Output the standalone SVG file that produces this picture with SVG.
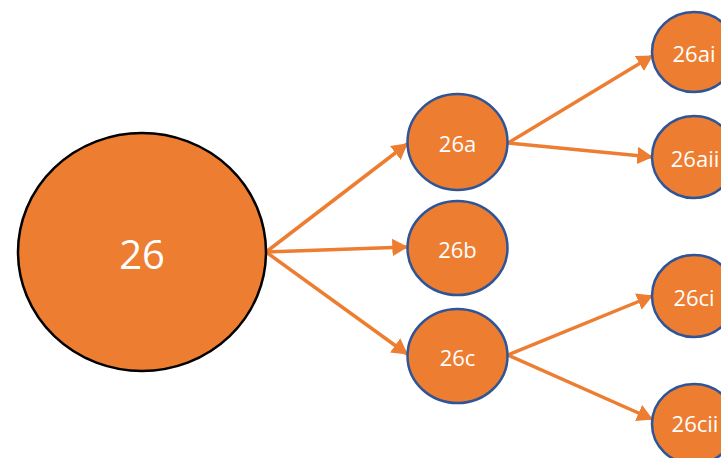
<svg xmlns="http://www.w3.org/2000/svg" width="721" height="458" viewBox="0 0 721 458">
<style>
.n{fill:#ED7D31;stroke:#2F5597;stroke-width:2.5}
.big{fill:#ED7D31;stroke:#000;stroke-width:2.5}
.t{fill:#fff;font-family:"Open Sans","Liberation Sans",sans-serif;text-anchor:middle;dominant-baseline:central}
.s{font-size:22px}
.e{stroke:#ED7D31;stroke-width:3.5;fill:none;marker-end:url(#ah)}
</style>
<defs>
<marker id="ah" markerWidth="5" markerHeight="5" refX="4.2" refY="2.5" orient="auto" markerUnits="strokeWidth"><path d="M0,0 L4.5,2.5 L0,5 Z" fill="#ED7D31"/></marker>
</defs>
<g id="edges">
<line class="e" x1="266" y1="252" x2="407" y2="144"/>
<line class="e" x1="266" y1="252" x2="407" y2="247"/>
<line class="e" x1="266" y1="252" x2="407" y2="354"/>
<line class="e" x1="508" y1="143" x2="652" y2="56"/>
<line class="e" x1="508" y1="143" x2="652" y2="157"/>
<line class="e" x1="508" y1="355" x2="652" y2="296"/>
<line class="e" x1="508" y1="355" x2="652" y2="419"/>
</g>
<g id="n26"><ellipse class="big" cx="142" cy="252" rx="124" ry="119"/><text class="t" x="142" y="253" font-size="40">26</text></g>
<g id="n26a"><ellipse class="n" cx="457.5" cy="142" rx="50" ry="48"/><text class="t s" x="457.5" y="143">26a</text></g>
<g id="n26b"><ellipse class="n" cx="457.5" cy="248" rx="50" ry="47"/><text class="t s" x="457.5" y="249">26b</text></g>
<g id="n26c"><ellipse class="n" cx="457.5" cy="356" rx="50" ry="47"/><text class="t s" x="457.5" y="357">26c</text></g>
<g id="n26ai"><ellipse class="n" cx="694" cy="52" rx="42" ry="40"/><text class="t s" x="694" y="53">26ai</text></g>
<g id="n26aii"><ellipse class="n" cx="694" cy="157" rx="42" ry="41"/><text class="t s" x="695" y="158">26aii</text></g>
<g id="n26ci"><ellipse class="n" cx="694" cy="296" rx="42" ry="41"/><text class="t s" x="694" y="297">26ci</text></g>
<g id="n26cii"><ellipse class="n" cx="694" cy="424" rx="42" ry="40"/><text class="t s" x="695" y="423">26cii</text></g>
</svg>
